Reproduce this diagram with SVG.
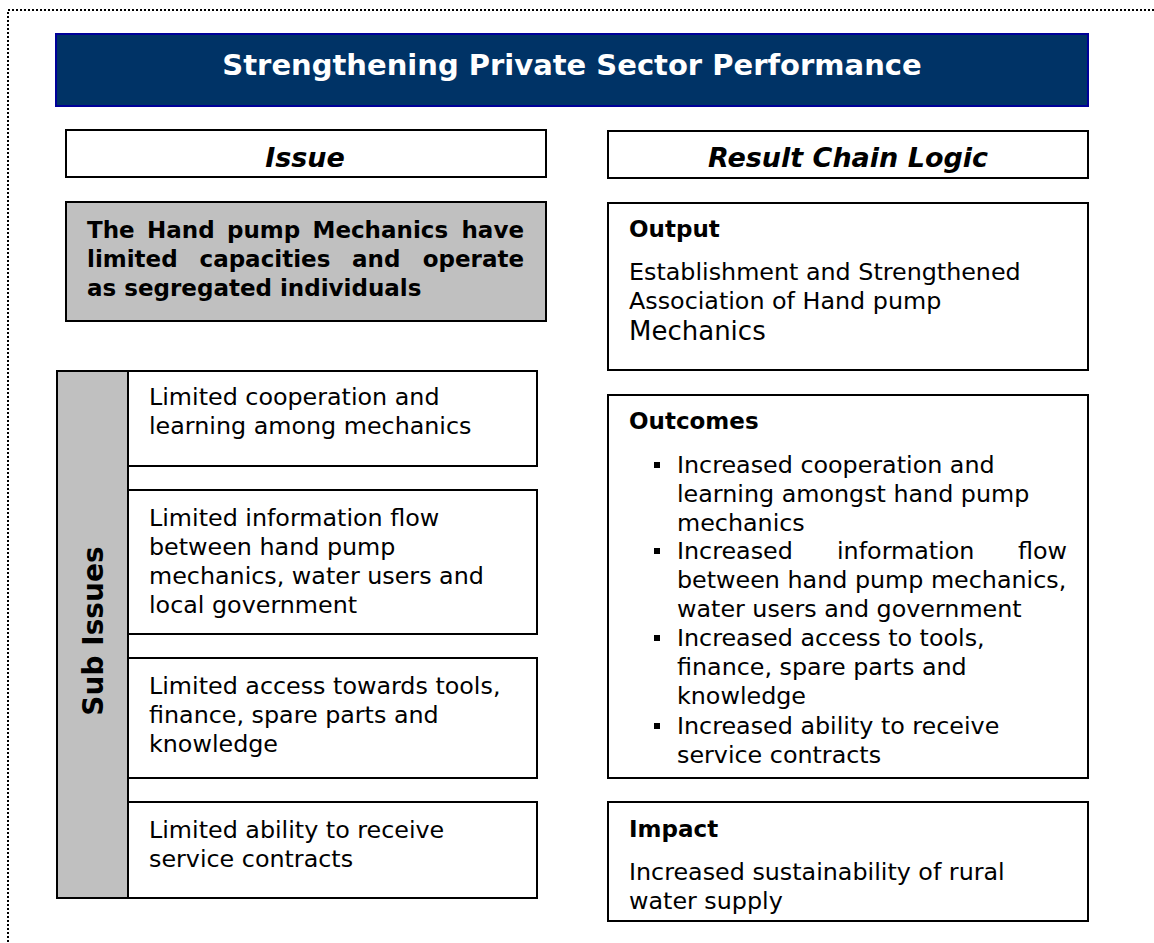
<svg xmlns="http://www.w3.org/2000/svg" width="1154" height="943" viewBox="0 0 1154 943">
<style>
text{font-family:"DejaVu Sans",Verdana,"Liberation Sans",sans-serif;fill:#000;}
.box{fill:#fff;stroke:#000;stroke-width:2;}
.gray{fill:#c0c0c0;stroke:#000;stroke-width:2;}
.t{font-size:23.8px;}
.b{font-size:23px;font-weight:bold;}
.hd{font-size:27px;font-weight:bold;font-style:italic;}
</style>
<rect x="8" y="10" width="1160" height="950" fill="none" stroke="#000" stroke-width="2" stroke-dasharray="2,2"/>
<g id="title">
<rect x="56" y="34" width="1032" height="72" fill="#003366" stroke="#000099" stroke-width="2"/>
<text x="572" y="75" text-anchor="middle" style="font-size:29px;font-weight:bold;fill:#fff">Strengthening Private Sector Performance</text>
</g>
<g id="issue-header">
<rect class="box" x="66" y="130" width="480" height="47"/>
<text class="hd" x="305" y="167" text-anchor="middle">Issue</text>
</g>
<g id="result-header">
<rect class="box" x="608" y="131" width="480" height="47"/>
<text class="hd" x="848" y="167" text-anchor="middle">Result Chain Logic</text>
</g>
<g id="main-issue">
<rect class="gray" x="66" y="202" width="480" height="119"/>
<text class="b" y="238"><tspan x="87">The</tspan><tspan x="147">Hand</tspan><tspan x="227">pump</tspan><tspan x="312.5">Mechanics</tspan><tspan x="524" text-anchor="end">have</tspan></text>
<text class="b" y="267"><tspan x="87">limited</tspan><tspan x="199.5">capacities</tspan><tspan x="352">and</tspan><tspan x="524" text-anchor="end">operate</tspan></text>
<text class="b" x="87" y="296">as segregated individuals</text>
</g>
<g id="sub-issues-label">
<rect class="gray" x="57" y="371" width="71" height="527"/>
<text x="103" y="631" text-anchor="middle" transform="rotate(-90 103 631)" style="font-size:28px;font-weight:bold">Sub Issues</text>
</g>
<g id="sub1">
<rect class="box" x="128" y="371" width="409" height="95"/>
<text class="t" x="149" y="405">Limited cooperation and</text>
<text class="t" x="149" y="434">learning among mechanics</text>
</g>
<g id="sub2">
<rect class="box" x="128" y="490" width="409" height="144"/>
<text class="t" x="149" y="526">Limited information flow</text>
<text class="t" x="149" y="555">between hand pump</text>
<text class="t" x="149" y="584">mechanics, water users and</text>
<text class="t" x="149" y="613">local government</text>
</g>
<g id="sub3">
<rect class="box" x="128" y="658" width="409" height="120"/>
<text class="t" x="149" y="694">Limited access towards tools,</text>
<text class="t" x="149" y="723">finance, spare parts and</text>
<text class="t" x="149" y="752">knowledge</text>
</g>
<g id="sub4">
<rect class="box" x="128" y="802" width="409" height="96"/>
<text class="t" x="149" y="838">Limited ability to receive</text>
<text class="t" x="149" y="867">service contracts</text>
</g>
<g id="output">
<rect class="box" x="608" y="203" width="480" height="167"/>
<text class="b" x="629" y="237">Output</text>
<text class="t" x="629" y="280">Establishment and Strengthened</text>
<text class="t" x="629" y="309">Association of Hand pump</text>
<text x="629" y="340" style="font-size:26px">Mechanics</text>
</g>
<g id="outcomes">
<rect class="box" x="608" y="395" width="480" height="383"/>
<text class="b" x="629" y="429">Outcomes</text>
<g fill="#000">
<rect x="654" y="462" width="6" height="6"/>
<rect x="654" y="548" width="6" height="6"/>
<rect x="654" y="635" width="6" height="6"/>
<rect x="654" y="723" width="6" height="6"/>
</g>
<text class="t" x="677" y="473">Increased cooperation and</text>
<text class="t" x="677" y="502">learning amongst hand pump</text>
<text class="t" x="677" y="531">mechanics</text>
<text class="t" y="559"><tspan x="677">Increased</tspan><tspan x="837">information</tspan><tspan x="1067" text-anchor="end">flow</tspan></text>
<text class="t" x="677" y="588">between hand pump mechanics,</text>
<text class="t" x="677" y="617">water users and government</text>
<text class="t" x="677" y="646">Increased access to tools,</text>
<text class="t" x="677" y="675">finance, spare parts and</text>
<text class="t" x="677" y="704">knowledge</text>
<text class="t" x="677" y="734">Increased ability to receive</text>
<text class="t" x="677" y="763">service contracts</text>
</g>
<g id="impact">
<rect class="box" x="608" y="802" width="480" height="119"/>
<text class="b" x="629" y="837">Impact</text>
<text class="t" x="629" y="880">Increased sustainability of rural</text>
<text class="t" x="629" y="909">water supply</text>
</g>
<g id="connectors"></g>
</svg>
